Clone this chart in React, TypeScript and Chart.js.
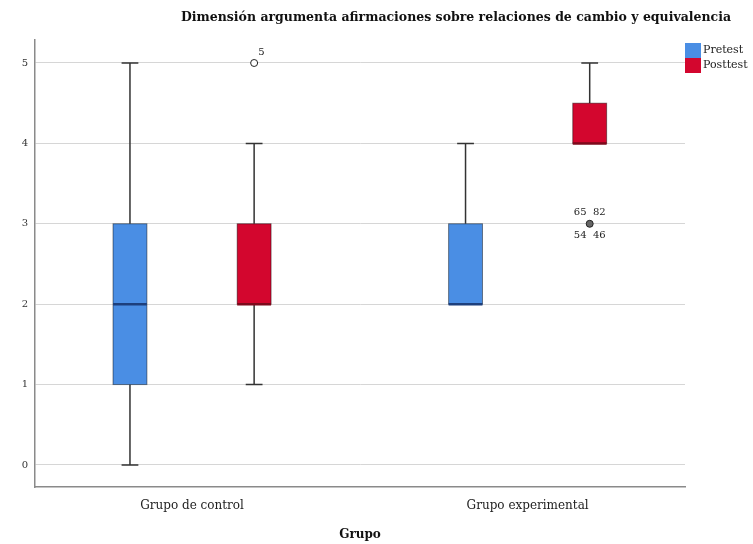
import React, { useEffect, useRef } from "react";
import { Chart, registerables } from "chart.js";

Chart.register(...registerables);

const chartTitle = "Dimensión argumenta afirmaciones sobre relaciones de cambio y equivalencia";
const axisTitle = "Grupo";
const groups = ["Grupo de control", "Grupo experimental"];
const groupPositions = [1, 2];
const seriesNames = ["Pretest", "Posttest"];
const seriesOffsets = [-0.185, 0.185];
const seriesColors = ["#4a8ee4", "#d3062e"];
const medianColors = ["#1d3f7c", "#7c0a1c"];
const yTicks = [0, 1, 2, 3, 4, 5];

const pretestMin = [0, 2];
const pretestQ1 = [1, 2];
const pretestMedian = [2, 2];
const pretestQ3 = [3, 3];
const pretestMax = [5, 4];

const posttestMin = [1, 4];
const posttestQ1 = [2, 4];
const posttestMedian = [2, 4];
const posttestQ3 = [3, 4.5];
const posttestMax = [4, 5];

const posttestOutlierGroup = [0, 1];
const posttestOutlierValue = [5, 3];
const posttestOutlierLabels = [["5"], ["65  82", "54  46"]];

const boxStats = [
  { min: pretestMin, q1: pretestQ1, med: pretestMedian, q3: pretestQ3, max: pretestMax },
  { min: posttestMin, q1: posttestQ1, med: posttestMedian, q3: posttestQ3, max: posttestMax },
];

const BOX_W = 0.101;
const CAP_W = 0.05;

const boxPlugin = {
  id: "boxes",
  beforeDatasetsDraw(chart: any) {
    const { ctx, scales } = chart;
    const x = scales.x;
    const y = scales.y;
    const halfBox = Math.abs(x.getPixelForValue(BOX_W) - x.getPixelForValue(0)) / 2;
    const halfCap = Math.abs(x.getPixelForValue(CAP_W) - x.getPixelForValue(0)) / 2;
    ctx.save();
    boxStats.forEach((st, s) => {
      groupPositions.forEach((gp, g) => {
        const cx = x.getPixelForValue(gp + seriesOffsets[s]);
        const pMin = y.getPixelForValue(st.min[g]);
        const pQ1 = y.getPixelForValue(st.q1[g]);
        const pMed = y.getPixelForValue(st.med[g]);
        const pQ3 = y.getPixelForValue(st.q3[g]);
        const pMax = y.getPixelForValue(st.max[g]);
        ctx.strokeStyle = "#333";
        ctx.lineWidth = 1.5;
        ctx.beginPath();
        if (pMin !== pQ1) {
          ctx.moveTo(cx, pQ1);
          ctx.lineTo(cx, pMin);
          ctx.moveTo(cx - halfCap, pMin);
          ctx.lineTo(cx + halfCap, pMin);
        }
        if (pMax !== pQ3) {
          ctx.moveTo(cx, pQ3);
          ctx.lineTo(cx, pMax);
          ctx.moveTo(cx - halfCap, pMax);
          ctx.lineTo(cx + halfCap, pMax);
        }
        ctx.stroke();
        ctx.fillStyle = seriesColors[s];
        ctx.fillRect(cx - halfBox, pQ3, halfBox * 2, pQ1 - pQ3);
        ctx.strokeStyle = "rgba(0,0,0,0.45)";
        ctx.lineWidth = 1;
        ctx.strokeRect(cx - halfBox, pQ3, halfBox * 2, pQ1 - pQ3);
        ctx.strokeStyle = medianColors[s];
        ctx.lineWidth = 2.5;
        ctx.beginPath();
        ctx.moveTo(cx - halfBox, pMed);
        ctx.lineTo(cx + halfBox, pMed);
        ctx.stroke();
      });
    });
    ctx.restore();
  },
  afterDatasetsDraw(chart: any) {
    const { ctx, scales } = chart;
    const x = scales.x;
    const y = scales.y;
    ctx.save();
    ctx.fillStyle = "#222";
    ctx.font = '10px "DejaVu Serif"';
    posttestOutlierGroup.forEach((g, i) => {
      const px = x.getPixelForValue(groupPositions[g] + seriesOffsets[1]);
      const py = y.getPixelForValue(posttestOutlierValue[i]);
      const labels = posttestOutlierLabels[i];
      if (labels.length === 1) {
        ctx.textAlign = "left";
        ctx.textBaseline = "middle";
        ctx.fillText(labels[0], px + 4, py - 11);
      } else {
        ctx.textAlign = "center";
        ctx.textBaseline = "middle";
        ctx.fillText(labels[0], px, py - 11);
        ctx.fillText(labels[1], px, py + 12);
      }
    });
    ctx.restore();
  },
  afterDraw(chart: any) {
    const { ctx, chartArea } = chart;
    ctx.save();
    ctx.fillStyle = "#111";
    ctx.font = 'bold 12.5px "DejaVu Serif"';
    ctx.textAlign = "center";
    ctx.textBaseline = "middle";
    ctx.fillText(chartTitle, 456, 18);
    const lx = chartArea.right;
    const ly = chartArea.top + 3;
    ctx.font = '11px "DejaVu Serif"';
    ctx.textAlign = "left";
    seriesNames.forEach((name, i) => {
      ctx.fillStyle = seriesColors[i];
      ctx.fillRect(lx, ly + i * 15, 16, 15);
      ctx.fillStyle = "#222";
      ctx.fillText(name, lx + 18, ly + i * 15 + 7.5);
    });
    ctx.restore();
  },
};

export default function App() {
  const ref = useRef<HTMLCanvasElement | null>(null);
  useEffect(() => {
    if (!ref.current) return;
    const chart = new Chart(ref.current, {
      type: "scatter",
      data: {
        datasets: [
          {
            label: seriesNames[0],
            data: [],
            backgroundColor: seriesColors[0],
          },
          {
            label: seriesNames[1],
            data: posttestOutlierGroup.map((g, i) => ({
              x: groupPositions[g] + seriesOffsets[1],
              y: posttestOutlierValue[i],
            })),
            backgroundColor: seriesColors[1],
            pointBackgroundColor: ["rgba(255,255,255,0.9)", "#666"],
            pointBorderColor: "#222",
            pointBorderWidth: 1,
            pointRadius: 3.5,
          },
        ],
      },
      options: {
        responsive: false,
        animation: false,
        layout: { padding: { top: 40, right: 68, left: 0, bottom: 0 } },
        plugins: {
          legend: { display: false },
          tooltip: { enabled: false },
          title: { display: false },
        },
        scales: {
          x: {
            type: "linear",
            min: 0.532,
            max: 2.469,
            afterFit: (s: any) => {
              s.height = 57;
            },
            afterBuildTicks: (s: any) => {
              s.ticks = groupPositions.map((v) => ({ value: v }));
            },
            grid: { display: false, drawTicks: false },
            border: { display: true, color: "#8a8a8a", width: 1.5 },
            ticks: {
              padding: 12,
              color: "#222",
              font: { family: "DejaVu Serif", size: 12 },
              maxRotation: 0,
              callback: (v: any) => groups[groupPositions.indexOf(Number(v))] ?? "",
            },
            title: {
              display: true,
              text: axisTitle,
              color: "#111",
              font: { family: "DejaVu Serif", size: 12, weight: "bold" },
              padding: { top: 0, bottom: 2 },
            },
          },
          y: {
            type: "linear",
            min: -0.274,
            max: 5.286,
            afterFit: (s: any) => {
              s.width = 35;
            },
            afterBuildTicks: (s: any) => {
              s.ticks = yTicks.map((v) => ({ value: v }));
            },
            grid: { color: "#d6d6d6", lineWidth: 1, drawTicks: false },
            border: { display: true, color: "#8a8a8a", width: 1.5 },
            ticks: {
              padding: 7,
              color: "#333",
              font: { family: "DejaVu Serif", size: 10 },
              callback: (v: any) => String(v),
            },
          },
        },
      },
      plugins: [boxPlugin],
    } as any);
    return () => chart.destroy();
  }, []);
  return (
    <div style={{ position: "fixed", left: 0, top: 0, width: 753, height: 544, background: "#fff" }}>
      <canvas ref={ref} width={753} height={544} />
    </div>
  );
}
